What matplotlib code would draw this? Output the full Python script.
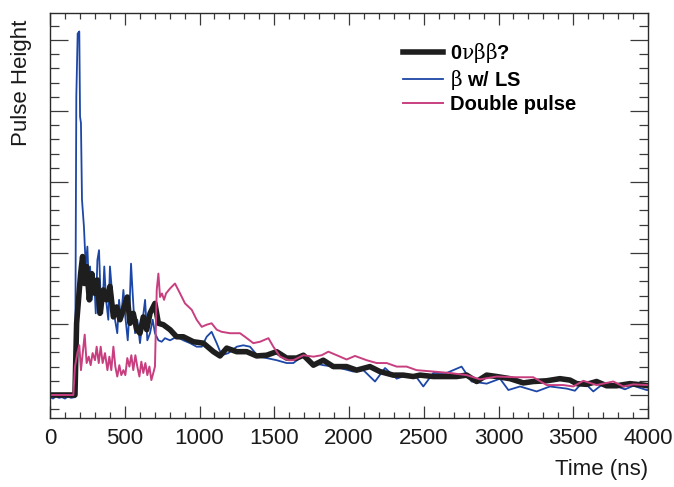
import matplotlib
matplotlib.use("Agg")
import matplotlib.pyplot as plt
from matplotlib.ticker import MultipleLocator, NullFormatter
from matplotlib.lines import Line2D

plt.rcParams['font.family'] = ['Liberation Sans', 'DejaVu Sans']
plt.rcParams['mathtext.fontset'] = 'custom'
plt.rcParams['mathtext.rm'] = 'DejaVu Serif'
plt.rcParams['mathtext.bf'] = 'Liberation Sans:bold'

# ---------------- data ----------------
black_t = [0, 167, 178, 196, 205, 218, 230, 245, 263, 279,
           301, 317, 334, 357, 379, 401, 424, 446, 468, 490,
           517, 535, 557, 580, 602, 624, 647, 669, 702, 725,
           758, 803, 847, 892, 959, 1026, 1093, 1137, 1182, 1249,
           1316, 1382, 1449, 1516, 1583, 1650, 1695, 1762, 1828, 1895,
           1940, 1984, 2051, 2140, 2207, 2296, 2363, 2430, 2475, 2564,
           2653, 2720, 2787, 2854, 2921, 2988, 3077, 3166, 3233, 3322,
           3411, 3478, 3523, 3590, 3656, 3723, 3790, 3879, 3968, 4000]
black_h = [0, 0, 1.01, 1.48, 1.71, 1.95, 1.57, 1.81, 1.34, 1.71,
           1.43, 1.62, 1.15, 1.48, 1.34, 1.53, 1.10, 1.24, 1.06, 1.20,
           1.38, 1.01, 1.15, 0.92, 0.87, 1.10, 0.92, 1.15, 1.29, 1.01,
           0.99, 0.92, 0.82, 0.82, 0.75, 0.73, 0.61, 0.55, 0.66, 0.61,
           0.61, 0.55, 0.56, 0.61, 0.52, 0.52, 0.56, 0.42, 0.49, 0.40,
           0.40, 0.40, 0.35, 0.40, 0.33, 0.28, 0.28, 0.26, 0.28, 0.26,
           0.26, 0.26, 0.28, 0.19, 0.28, 0.26, 0.23, 0.17, 0.19, 0.20,
           0.23, 0.21, 0.16, 0.15, 0.19, 0.13, 0.13, 0.16, 0.14, 0.13]

blue_t = [0, 20, 40, 60, 80, 100, 120, 140, 168, 176,
          185, 196, 201, 207, 214, 227, 239, 250, 261, 268,
          279, 294, 306, 317, 328, 339, 350, 363, 375, 390,
          401, 419, 435, 450, 462, 475, 491, 504, 520, 531,
          542, 553, 569, 584, 602, 620, 636, 651, 669, 687,
          702, 725, 747, 769, 803, 847, 892, 937, 981, 1015,
          1048, 1081, 1115, 1148, 1193, 1249, 1293, 1338, 1394, 1449,
          1516, 1583, 1628, 1695, 1762, 1828, 1895, 1940, 2029, 2096,
          2174, 2241, 2319, 2385, 2441, 2497, 2564, 2653, 2753, 2820,
          2921, 3010, 3066, 3144, 3255, 3344, 3456, 3511, 3567, 3634,
          3701, 3768, 3846, 3902, 3991, 4000]
blue_h = [-0.03, -0.05, -0.02, -0.04, -0.03, -0.05, -0.02, -0.04, -0.03, 4.20,
          5.09, 5.12, 3.92, 3.83, 2.75, 2.37, 1.81, 2.09, 1.48, 1.81,
          1.34, 1.71, 1.15, 1.90, 2.04, 1.34, 1.15, 1.81, 1.34, 1.06,
          1.81, 1.34, 1.06, 0.87, 1.34, 1.06, 1.48, 1.10, 0.77, 1.15,
          1.85, 1.43, 0.87, 1.06, 0.73, 1.06, 1.34, 0.77, 0.87, 1.06,
          0.87, 0.77, 0.75, 0.80, 0.77, 0.82, 0.77, 0.73, 0.68, 0.68,
          0.82, 0.89, 0.73, 0.56, 0.59, 0.68, 0.70, 0.68, 0.54, 0.52,
          0.49, 0.45, 0.45, 0.56, 0.45, 0.42, 0.40, 0.38, 0.33, 0.35,
          0.19, 0.38, 0.23, 0.28, 0.28, 0.12, 0.31, 0.31, 0.40, 0.19,
          0.16, 0.23, 0.07, 0.12, 0.05, 0.12, 0.09, 0.06, 0.19, 0.05,
          0.16, 0.14, 0.08, 0.13, 0.07, 0.07]

pink_t = [0, 156, 167, 183, 196, 207, 219, 232, 245, 259,
          272, 285, 301, 312, 326, 339, 352, 368, 384, 397,
          410, 424, 437, 450, 464, 477, 491, 504, 517, 531,
          544, 557, 571, 584, 598, 611, 624, 638, 651, 665,
          678, 691, 702, 714, 725, 736, 749, 763, 776, 803,
          836, 870, 903, 948, 981, 1015, 1048, 1081, 1115, 1148,
          1204, 1271, 1304, 1360, 1405, 1461, 1494, 1539, 1594, 1628,
          1695, 1762, 1817, 1862, 1918, 1984, 2040, 2118, 2185, 2252,
          2319, 2385, 2452, 2564, 2675, 2787, 2876, 2988, 3121, 3233,
          3322, 3433, 3500, 3567, 3656, 3768, 3835, 3902, 3991, 4000]
pink_h = [0, 0, 0.40, 0.59, 0.70, 0.35, 0.59, 0.85, 0.45, 0.54,
          0.42, 0.59, 0.49, 0.68, 0.45, 0.68, 0.45, 0.59, 0.35, 0.54,
          0.35, 0.68, 0.40, 0.26, 0.42, 0.28, 0.35, 0.28, 0.52, 0.40,
          0.56, 0.35, 0.56, 0.40, 0.26, 0.47, 0.31, 0.45, 0.28, 0.40,
          0.21, 0.31, 0.40, 1.48, 1.71, 1.38, 1.43, 1.34, 1.43, 1.50,
          1.57, 1.43, 1.29, 1.20, 1.06, 0.96, 0.99, 1.01, 0.92, 0.89,
          0.87, 0.87, 0.82, 0.73, 0.75, 0.80, 0.68, 0.54, 0.49, 0.49,
          0.56, 0.54, 0.56, 0.61, 0.56, 0.50, 0.55, 0.49, 0.45, 0.45,
          0.40, 0.40, 0.35, 0.33, 0.31, 0.28, 0.22, 0.26, 0.25, 0.25,
          0.14, 0.14, 0.12, 0.20, 0.14, 0.19, 0.12, 0.15, 0.14, 0.14]

labels = ["0$\\mathrm{\\nu\\beta\\beta}$?", "$\\mathrm{\\beta}$ w/ LS", "Double pulse"]
x_ticks = [0, 500, 1000, 1500, 2000, 2500, 3000, 3500, 4000]

# ---------------- figure ----------------
W, H = 674, 487
fig = plt.figure(figsize=(W / 100, H / 100), dpi=100)
ax = fig.add_axes([50 / W, 1 - 418 / H, (648 - 50) / W, (418 - 13) / H])

c_black = '#1e1e1e'
c_blue = '#1d47a6'
c_pink = '#c83f80'

l_blue, = ax.plot(blue_t, blue_h, color=c_blue, lw=1.3, solid_joinstyle='round')
l_black, = ax.plot(black_t, black_h, color=c_black, lw=4.0, solid_joinstyle='round')
l_pink, = ax.plot(pink_t, pink_h, color=c_pink, lw=1.4, solid_joinstyle='round')

ax.set_xlim(0, 4000)
ax.set_ylim(-0.324, 5.38)

ax.xaxis.set_major_locator(MultipleLocator(500))
ax.xaxis.set_minor_locator(MultipleLocator(100))
ax.yaxis.set_major_locator(MultipleLocator(1))
ax.yaxis.set_minor_locator(MultipleLocator(0.2))
ax.yaxis.set_major_formatter(NullFormatter())
ax.set_xticks(x_ticks)
ax.set_xticklabels([str(v) for v in x_ticks])

tc = '#3a3a3a'
ax.tick_params(axis='x', which='major', direction='in', top=True, bottom=True,
               length=8.6, width=0.9, color=tc, labelsize=16, pad=7, labelcolor='#1a1a1a')
ax.tick_params(axis='x', which='minor', direction='in', top=True, bottom=True,
               length=4.3, width=0.9, color=tc)
ax.tick_params(axis='y', which='major', direction='in', left=True, right=True,
               length=13, width=0.9, color=tc)
ax.tick_params(axis='y', which='minor', direction='in', left=True, right=True,
               length=6.5, width=0.9, color=tc)
for s in ax.spines.values():
    s.set_color('#2a2a2a')
    s.set_linewidth(1.0)

fig.text(22 / W, 1 - 20 / H, "Pulse Height", rotation=90, ha='center', va='top',
         fontsize=16, color='#1a1a1a')
fig.text(648 / W, 1 - 470 / H, "Time (ns)", ha='right', va='center',
         fontsize=16, color='#1a1a1a')

handles = [Line2D([], [], color=c_black, lw=4.0),
           Line2D([], [], color=c_blue, lw=1.3),
           Line2D([], [], color=c_pink, lw=1.4)]
leg = ax.legend(handles, labels, loc='upper left',
                bbox_to_anchor=(403 / W, 1 - 41 / H), bbox_transform=fig.transFigure,
                frameon=False, borderpad=0, borderaxespad=0, handlelength=2.0,
                handletextpad=0.35, labelspacing=0.14,
                prop={'size': 14.5, 'weight': 'bold'})

fig.savefig("out.png", dpi=100)
